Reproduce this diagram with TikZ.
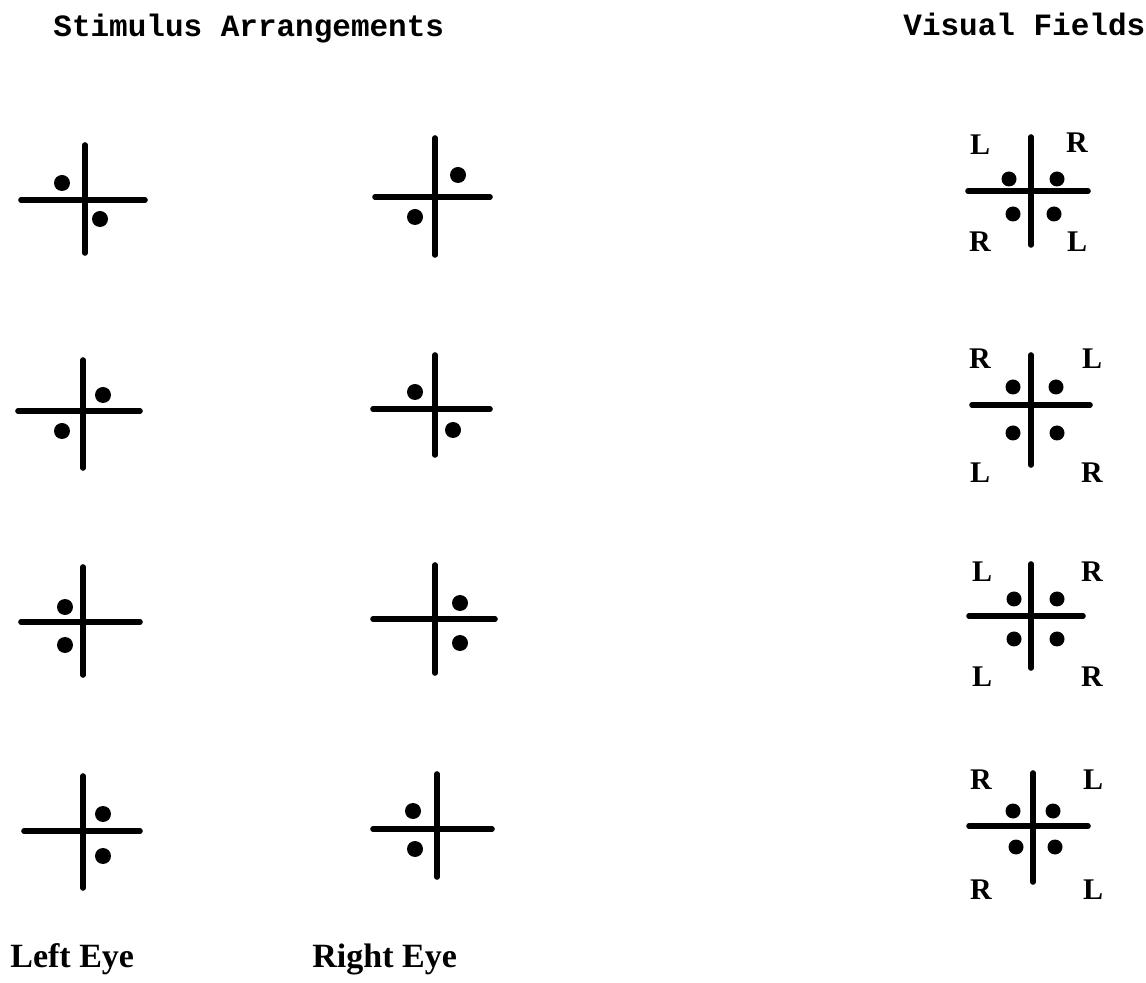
\documentclass[tikz,border=0pt]{standalone}
\usepackage{fontspec}
\setmainfont{Liberation Serif}
\newfontfamily\headfont{Liberation Mono}
\tikzset{
  bar/.style={line width=2.8pt,line cap=round},
  spot/.style={fill=black},
  headtxt/.style={anchor=base west,inner sep=0pt,font=\headfont\bfseries\fontsize{15.5}{18}\selectfont},
  eyetxt/.style={anchor=base west,inner sep=0pt,font=\bfseries\fontsize{17}{20}\selectfont},
  side/.style={inner sep=0pt,font=\bfseries\fontsize{15}{18}\selectfont}
}
\begin{document}
\begin{tikzpicture}[x=0.5pt,y=-0.5pt]
\useasboundingbox (0,0) rectangle (1146,983);
% titres
\node[headtxt] (stim) at (53,37) {Stimulus Arrangements};
\node[headtxt] (vis) at (903,36) {Visual Fields};
\node[eyetxt] (leye) at (10,967) {Left Eye};
\node[eyetxt] (reye) at (312,967) {Right Eye};
% ligne 1
\draw[bar] (85,145) -- (85,253);
\draw[bar] (21,200) -- (145,200);
\fill[spot] (62,183) circle[radius=8];
\fill[spot] (100,219) circle[radius=8];
\draw[bar] (435,138) -- (435,255);
\draw[bar] (375,197) -- (490,197);
\fill[spot] (458,175) circle[radius=8];
\fill[spot] (415,217) circle[radius=8];
\draw[bar] (1031,137) -- (1031,245);
\draw[bar] (968,191) -- (1088,191);
\fill[spot] (1009,179) circle[radius=7.5];
\fill[spot] (1057,179) circle[radius=7.5];
\fill[spot] (1013,214) circle[radius=7.5];
\fill[spot] (1054,214) circle[radius=7.5];
\node[side] (a1) at (980,145) {L};
\node[side] (b1) at (1077,143) {R};
\node[side] (c1) at (980,242) {R};
\node[side] (d1) at (1077,242) {L};
% ligne 2
\draw[bar] (83,360) -- (83,468);
\draw[bar] (18,411) -- (140,411);
\fill[spot] (103,395) circle[radius=8];
\fill[spot] (62,431) circle[radius=8];
\draw[bar] (435,355) -- (435,455);
\draw[bar] (373,409) -- (490,409);
\fill[spot] (415,392) circle[radius=8];
\fill[spot] (453,430) circle[radius=8];
\draw[bar] (1031,355) -- (1031,465);
\draw[bar] (972,405) -- (1090,405);
\fill[spot] (1013,387) circle[radius=7.5];
\fill[spot] (1056,387) circle[radius=7.5];
\fill[spot] (1013,433) circle[radius=7.5];
\fill[spot] (1057,433) circle[radius=7.5];
\node[side] (a2) at (980,359) {R};
\node[side] (b2) at (1092,359) {L};
\node[side] (c2) at (980,473) {L};
\node[side] (d2) at (1092,473) {R};
% ligne 3
\draw[bar] (83,567) -- (83,675);
\draw[bar] (21,622) -- (140,622);
\fill[spot] (65,607) circle[radius=8];
\fill[spot] (65,645) circle[radius=8];
\draw[bar] (435,565) -- (435,673);
\draw[bar] (373,619) -- (495,619);
\fill[spot] (460,603) circle[radius=8];
\fill[spot] (460,643) circle[radius=8];
\draw[bar] (1031,564) -- (1031,668);
\draw[bar] (969,616) -- (1083,616);
\fill[spot] (1014,599) circle[radius=7.5];
\fill[spot] (1057,599) circle[radius=7.5];
\fill[spot] (1014,639) circle[radius=7.5];
\fill[spot] (1057,639) circle[radius=7.5];
\node[side] (a3) at (982,572) {L};
\node[side] (b3) at (1092,572) {R};
\node[side] (c3) at (982,677) {L};
\node[side] (d3) at (1092,677) {R};
% ligne 4
\draw[bar] (83,776) -- (83,888);
\draw[bar] (24,831) -- (140,831);
\fill[spot] (103,814) circle[radius=8];
\fill[spot] (103,856) circle[radius=8];
\draw[bar] (437,774) -- (437,877);
\draw[bar] (373,829) -- (492,829);
\fill[spot] (413,811) circle[radius=8];
\fill[spot] (415,849) circle[radius=8];
\draw[bar] (1033,773) -- (1033,882);
\draw[bar] (969,826) -- (1088,826);
\fill[spot] (1013,811) circle[radius=7.5];
\fill[spot] (1053,811) circle[radius=7.5];
\fill[spot] (1016,847) circle[radius=7.5];
\fill[spot] (1055,847) circle[radius=7.5];
\node[side] (a4) at (981,780) {R};
\node[side] (b4) at (1093,780) {L};
\node[side] (c4) at (981,890) {R};
\node[side] (d4) at (1093,890) {L};
\end{tikzpicture}
\end{document}
